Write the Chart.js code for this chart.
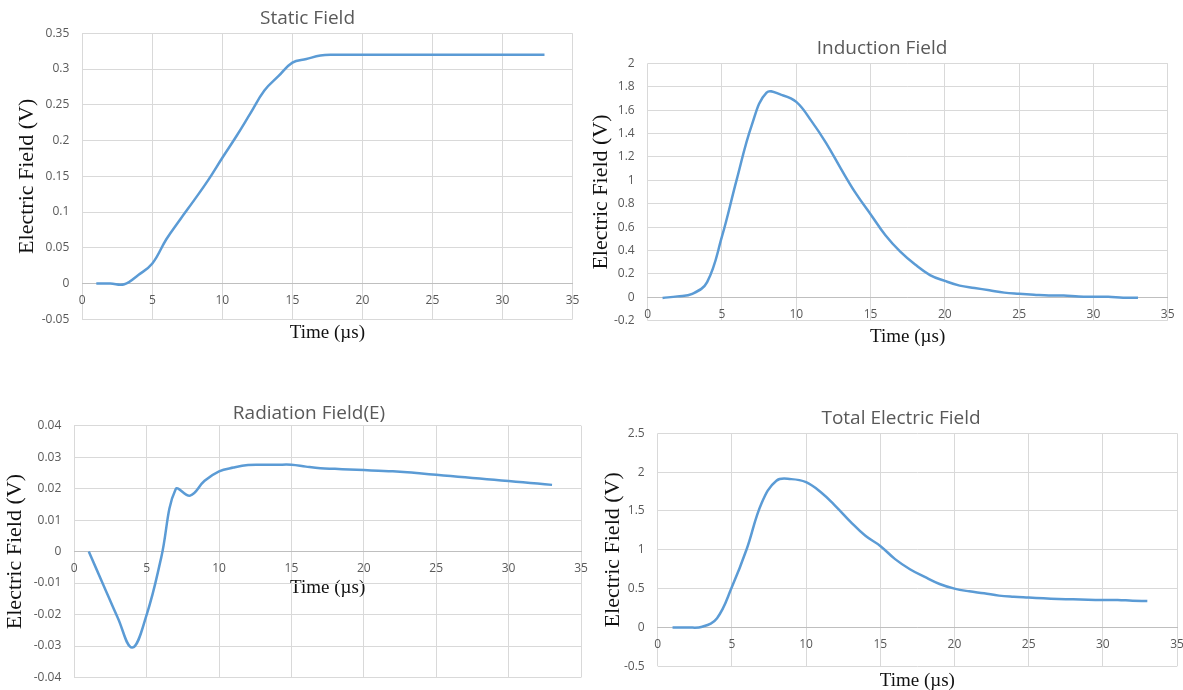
<!DOCTYPE html>
<html>
<head>
<meta charset="utf-8">
<title>Electric field components</title>
<script src="https://cdn.jsdelivr.net/npm/chart.js@4.4.1/dist/chart.umd.min.js"></script>
<style>
  html, body { margin: 0; width: 1183px; height: 690px; overflow: hidden; background: #fff; }
  .box { position: absolute; }
</style>
</head>
<body>
<div class="box" id="b1"><canvas id="c1"></canvas></div>
<div class="box" id="b2"><canvas id="c2"></canvas></div>
<div class="box" id="b3"><canvas id="c3"></canvas></div>
<div class="box" id="b4"><canvas id="c4"></canvas></div>
<script>
// time in microseconds, same samples for all four curves
const timeUs = [1, 2, 3, 4, 5, 6, 7, 8, 9, 10, 11, 12, 13, 14, 15, 16, 17,
  18, 19, 20, 21, 22, 23, 24, 25, 26, 27, 28, 29, 30, 31, 32, 33];

const staticField = [0, 0, -0.001, 0.012, 0.028, 0.062, 0.09, 0.117, 0.145, 0.176,
  0.206, 0.238, 0.27, 0.29, 0.309, 0.314, 0.319, 0.32, 0.32, 0.32, 0.32, 0.32,
  0.32, 0.32, 0.32, 0.32, 0.32, 0.32, 0.32, 0.32, 0.32, 0.32, 0.32];

const inductionField = [-0.005, 0.008, 0.03, 0.13, 0.52, 1.01, 1.47, 1.75, 1.73,
  1.67, 1.51, 1.32, 1.1, 0.89, 0.71, 0.53, 0.39, 0.28, 0.19, 0.14, 0.1, 0.08,
  0.06, 0.04, 0.03, 0.022, 0.015, 0.015, 0.007, 0.005, 0.005, -0.003, -0.004];

const radiationField = [0, -0.0105, -0.021, -0.0305, -0.02, -0.002, 0.0198, 0.0178,
  0.0225, 0.0255, 0.0267, 0.0275, 0.0276, 0.0276, 0.0276, 0.027, 0.0265, 0.0263,
  0.0261, 0.0259, 0.0257, 0.0255, 0.0252, 0.0248, 0.0244, 0.024, 0.0236, 0.0232,
  0.0228, 0.0224, 0.022, 0.0216, 0.0212];

const totalField = [0, 0, 0.01, 0.12, 0.52, 1.01, 1.6, 1.89, 1.91, 1.87, 1.74,
  1.56, 1.36, 1.18, 1.05, 0.88, 0.75, 0.65, 0.56, 0.5, 0.465, 0.44, 0.41, 0.395,
  0.385, 0.375, 0.368, 0.362, 0.357, 0.354, 0.354, 0.345, 0.341];

// [min, max, step]
const timeRange = [0, 35, 5];
const staticRange = [-0.05, 0.35, 0.05];
const inductionRange = [-0.2, 2, 0.2];
const radiationRange = [-0.04, 0.04, 0.01];
const totalRange = [-0.5, 2.5, 0.5];

const chartTitles = ["Static Field", "Induction Field", "Radiation Field(E)", "Total Electric Field"];
const xTitle = "Time (µs)";
const yTitle = "Electric Field (V)";

document.addEventListener("DOMContentLoaded", () => {
  const tickFont = { family: "'Open Sans', sans-serif", size: 12 };
  const serif = { family: "'Liberation Serif', 'Times New Roman', serif" };

  const makeChart = (n, values, yr, lay) => {
    const wrap = document.getElementById("b" + n);
    wrap.style.left = lay.left + "px";
    wrap.style.top = lay.top + "px";
    wrap.style.width = lay.w + "px";
    wrap.style.height = lay.h + "px";

    const ctx = document.getElementById("c" + n).getContext("2d");
    return new Chart(ctx, {
      type: "line",
      data: {
        datasets: [
          {
            data: timeUs.map((t, i) => ({ x: t, y: values[i] })),
            borderColor: "#5b9bd5",
            borderWidth: 2.5,
            pointRadius: 0,
            tension: 0.4,
            fill: false
          }
        ]
      },
      options: {
        responsive: true,
        maintainAspectRatio: false,
        animation: false,
        events: [],
        // the x axis sits on y = 0 and takes no room, so the room under the plot is padding
        layout: { padding: { bottom: lay.xh } },
        plugins: {
          legend: { display: false },
          tooltip: { enabled: false },
          title: {
            display: true,
            text: chartTitles[n - 1],
            color: "#595959",
            font: { family: "'Open Sans', sans-serif", size: 19, weight: "normal" },
            padding: { top: 4, bottom: lay.tpb }
          }
        },
        scales: {
          x: {
            type: "linear",
            min: timeRange[0],
            max: timeRange[1],
            position: { y: 0 },
            ticks: { stepSize: timeRange[2], color: "#595959", font: tickFont, padding: 10, maxRotation: 0 },
            grid: { color: "#d9d9d9", drawTicks: false },
            border: { color: "#bfbfbf" },
            title: { display: true, text: xTitle, color: "#111", font: { ...serif, size: 19 }, padding: 0 },
            afterFit: s => {
              s.height = lay.xh;
              s.paddingLeft = 0;
              s.paddingRight = lay.gr;
            }
          },
          y: {
            min: yr[0],
            max: yr[1],
            ticks: {
              stepSize: yr[2],
              color: "#595959",
              font: tickFont,
              padding: 13,
              callback: v => String(+v.toFixed(4))
            },
            grid: { color: "#d9d9d9", drawTicks: false },
            border: { display: false },
            title: {
              display: true,
              text: yTitle,
              color: "#111",
              font: { ...serif, size: 22 },
              padding: { top: lay.ytp, bottom: 0 }
            },
            afterFit: s => {
              s.width = lay.yw;
              s.paddingTop = 0;
              s.paddingBottom = 0;
            }
          }
        }
      }
    });
  };

  makeChart(1, staticField, staticRange,
    { left: 0, top: 3, w: 615, h: 377, yw: 82.3, gr: 42.5, tpb: 3.5, ytp: 14.3, xh: 60.7 });
  makeChart(2, inductionField, inductionRange,
    { left: 583, top: 33, w: 598, h: 339, yw: 64.7, gr: 13.3, tpb: 3.5, ytp: 4.6, xh: 51.3 });
  makeChart(3, radiationField, radiationRange,
    { left: 0, top: 398, w: 618, h: 327, yw: 74.3, gr: 37, tpb: 0.9, ytp: 1.8, xh: 47.5 });
  makeChart(4, totalField, totalRange,
    { left: 595, top: 403, w: 612, h: 328, yw: 62.7, gr: 30, tpb: 3.5, ytp: 4.8, xh: 64.7 });
});
</script>
</body>
</html>
